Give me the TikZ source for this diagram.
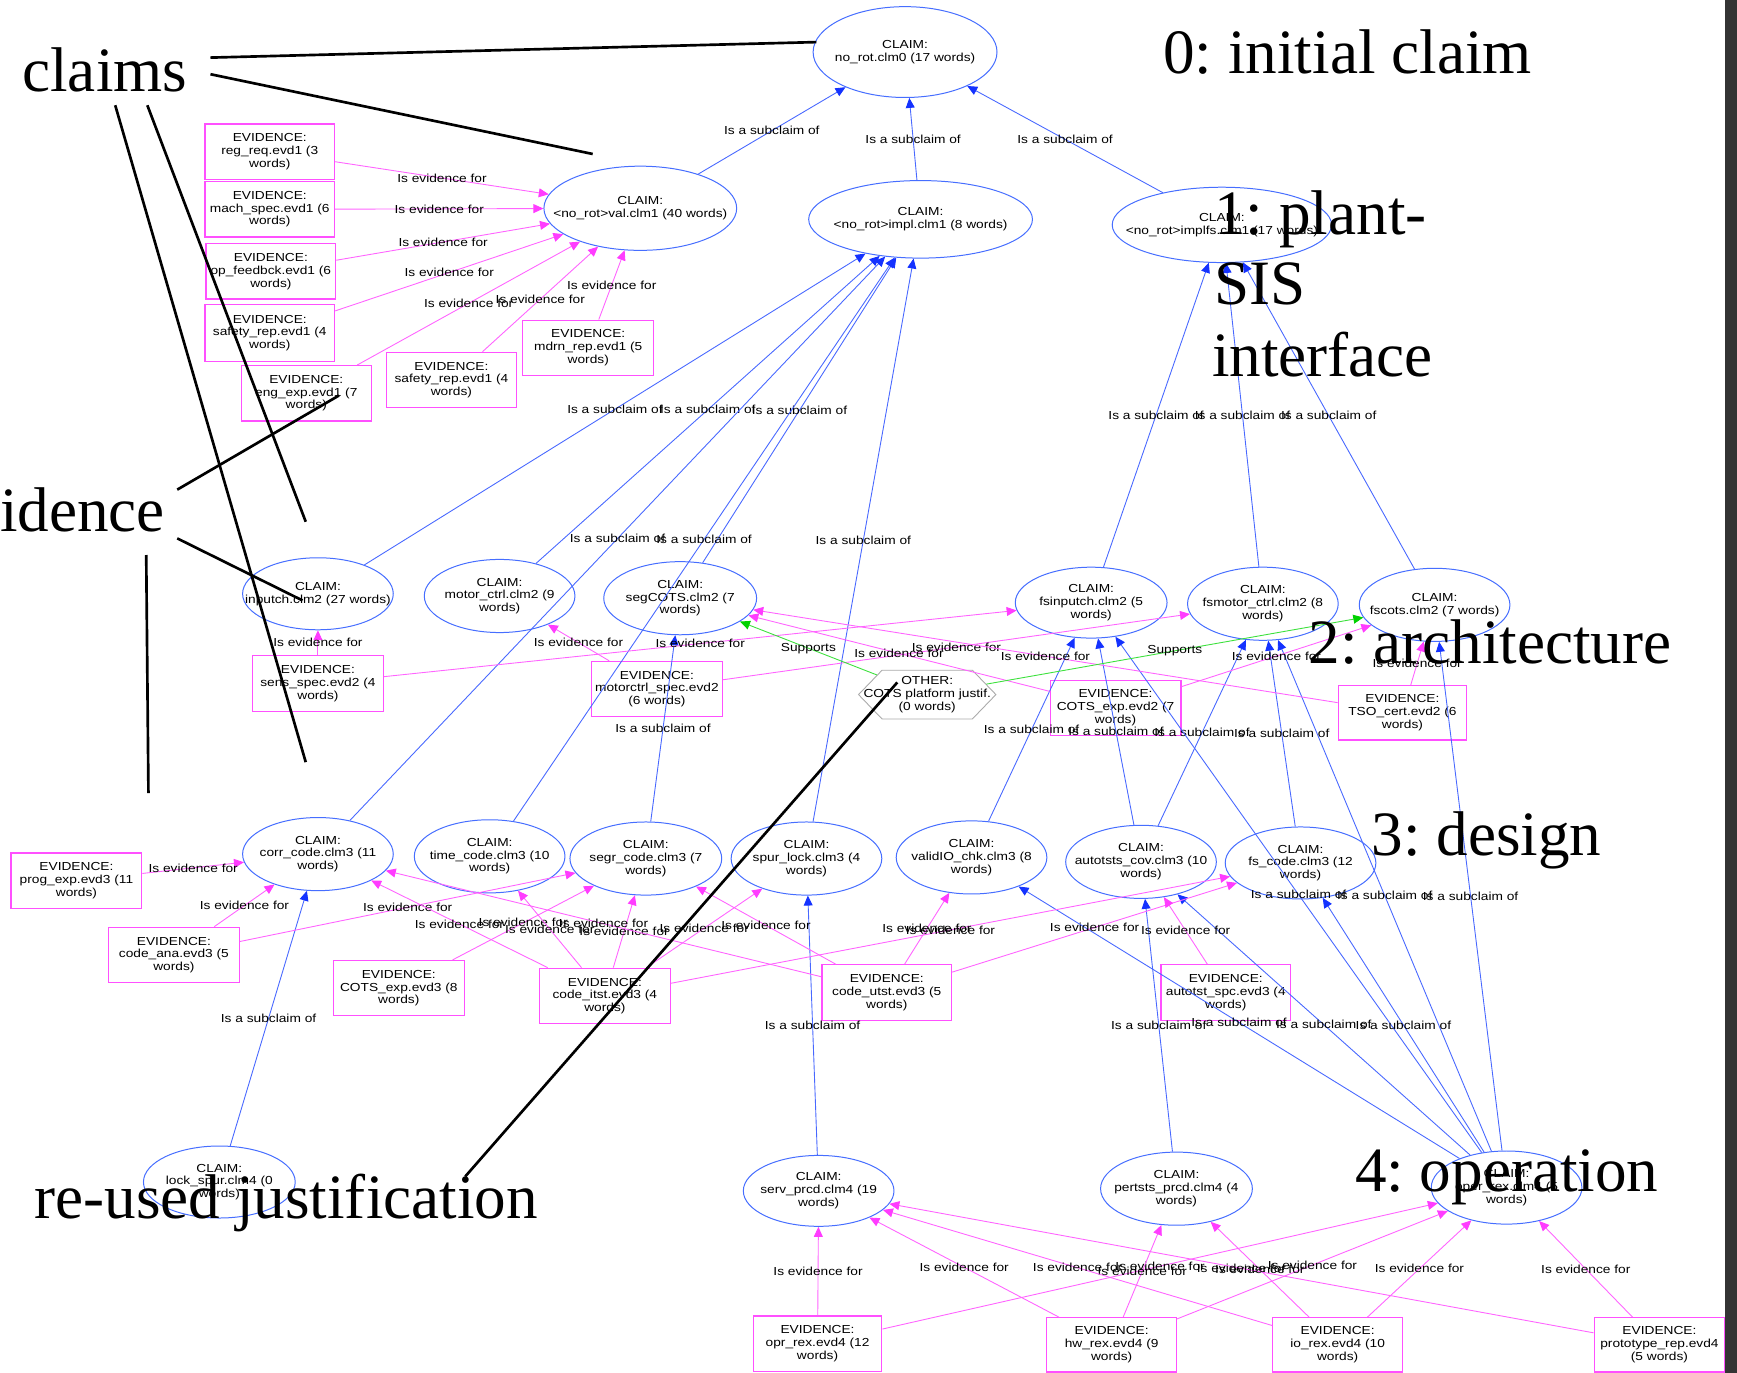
\documentclass[tikz,border=0pt]{standalone}
\usepackage{fontspec}
\newfontfamily\graphfont[FakeStretch=1.18]{Liberation Sans}
\newfontfamily\notefont{Liberation Serif}
\usetikzlibrary{arrows.meta,shapes.geometric,shapes.symbols}
\frenchspacing

\definecolor{subline}{RGB}{72,104,255}
\definecolor{subtip}{RGB}{20,50,255}
\definecolor{evline}{RGB}{255,100,255}
\definecolor{evtip}{RGB}{255,60,255}
\definecolor{evbox}{RGB}{255,80,255}
\definecolor{claimline}{RGB}{70,110,255}
\definecolor{supline}{RGB}{60,225,60}
\definecolor{suptip}{RGB}{0,210,0}
\definecolor{hexline}{RGB}{170,170,170}
\definecolor{edgestrip}{RGB}{52,52,52}

\tikzset{
  ntext/.style={font=\graphfont\fontsize{10.5}{11.5}\selectfont, align=center, inner sep=0pt, text=black},
  claim/.style={ellipse, draw=claimline, line width=0.9pt, inner sep=0pt},
  evid/.style={rectangle, draw=evbox, line width=1.1pt, inner sep=0pt},
  otherhex/.style={signal, signal to=west and east, signal pointer angle=92, draw=hexline, line width=0.8pt, inner sep=0pt},
  elabel/.style={font=\graphfont\fontsize{10.5}{11.5}\selectfont, text=black, inner sep=0pt},
  subedge/.style={draw=subline, line width=0.8pt, -{Triangle[length=9pt,width=8pt,color=subtip]}},
  evedge/.style={draw=evline, line width=0.8pt, -{Triangle[length=9pt,width=8pt,color=evtip]}},
  supedge/.style={draw=supline, line width=0.8pt, -{Triangle[length=9pt,width=8pt,color=suptip]}},
  notetext/.style={font=\notefont\fontsize{57}{64.5}\selectfont, text=black, inner sep=0pt, anchor=base west},
  notewire/.style={draw=black, line width=2.4pt},
}

% claim ellipse: name, x, y, width, height, text
\newcommand\claimnode[6]{\node[claim, minimum width=#4, minimum height=#5, label={[ntext]center:{#6}}] (#1) at (#2,#3) {};}
% evidence box: name, x, y, width, height, text
\newcommand\evidnode[6]{\node[evid, minimum width=#4, minimum height=#5, label={[ntext]center:{#6}}] (#1) at (#2,#3) {};}
% relations
\newcommand\subarc[2]{\draw[subedge] (#1) -- (#2) node[elabel, midway] (sl-#1-#2) {Is a subclaim of};}
\newcommand\evarc[2]{\draw[evedge] (#1) -- (#2) node[elabel, midway] (el-#1-#2) {Is evidence for};}
\newcommand\suparc[2]{\draw[supedge] (#1) -- (#2) node[elabel, midway] (pl-#1-#2) {Supports};}

\begin{document}
\begin{tikzpicture}[x=1pt,y=-1pt]
\useasboundingbox (0,0) rectangle (1568,1239);
\fill[white] (0,0) rectangle (1568,1239);
\fill[edgestrip] (1557,0) rectangle (1568,1239);

% ---- level 0 and 1 claims
\claimnode{c0}{817}{47}{166}{82}{CLAIM:\\no\_rot.clm0 (17 words)}
\claimnode{c1val}{578}{188}{174}{76}{CLAIM:\\<no\_rot>val.clm1 (40 words)}
\claimnode{c1impl}{831}{198}{202}{70}{CLAIM:\\<no\_rot>impl.clm1 (8 words)}
\claimnode{c1fs}{1103}{203}{198}{68}{CLAIM:\\<no\_rot>implfs.clm1 (17 words)}

% ---- level 1 evidence
\evidnode{regreq}{243.5}{137}{117}{50}{EVIDENCE:\\reg\_req.evd1 (3\\words)}
\evidnode{machspec}{243.5}{189}{117}{50}{EVIDENCE:\\mach\_spec.evd1 (6\\words)}
\evidnode{opfeed}{244.5}{245}{117}{50}{EVIDENCE:\\op\_feedbck.evd1 (6\\words)}
\evidnode{safetya}{243.5}{300.5}{117}{51}{EVIDENCE:\\safety\_rep.evd1 (4\\words)}
\evidnode{engexp}{276.5}{355}{117}{50}{EVIDENCE:\\eng\_exp.evd1 (7\\words)}
\evidnode{safetyb}{407.5}{343}{117}{50}{EVIDENCE:\\safety\_rep.evd1 (4\\words)}
\evidnode{mdrnrep}{531}{314}{118}{50}{EVIDENCE:\\mdrn\_rep.evd1 (5\\words)}

% ---- level 2 claims
\claimnode{inputch}{287}{536}{136}{65}{CLAIM:\\inputch.clm2 (27 words)}
\claimnode{motorctrl}{451}{538}{136}{66}{CLAIM:\\motor\_ctrl.clm2 (9\\words)}
\claimnode{segcots}{614}{540}{138}{66}{CLAIM:\\segCOTS.clm2 (7\\words)}
\claimnode{fsinputch}{985}{544}{137}{64}{CLAIM:\\fsinputch.clm2 (5\\words)}
\claimnode{fsmotor}{1140}{545}{136}{66}{CLAIM:\\fsmotor\_ctrl.clm2 (8\\words)}
\claimnode{fscots}{1295}{546}{136}{66}{CLAIM:\\fscots.clm2 (7 words)}

% ---- level 2 evidence and justification
\evidnode{sensspec}{287}{617}{118}{50}{EVIDENCE:\\sens\_spec.evd2 (4\\words)}
\evidnode{motorspec}{593}{622}{118}{50}{EVIDENCE:\\motorctrl\_spec.evd2\\(6 words)}
\evidnode{cotsexptwo}{1007}{639}{118}{50}{EVIDENCE:\\COTS\_exp.evd2 (7\\words)}
\evidnode{tsocert}{1266}{643.5}{116}{49}{EVIDENCE:\\TSO\_cert.evd2 (6\\words)}
\node[otherhex, minimum width=124, minimum height=44,
      label={[ntext]center:{OTHER:\\COTS platform justif.\\(0 words)}}] (cotsjust) at (837,627) {};

% ---- level 3 claims
\claimnode{corrcode}{287}{771}{136}{66}{CLAIM:\\corr\_code.clm3 (11\\words)}
\claimnode{timecode}{442}{773}{136}{66}{CLAIM:\\time\_code.clm3 (10\\words)}
\claimnode{segrcode}{583}{775}{137}{66}{CLAIM:\\segr\_code.clm3 (7\\words)}
\claimnode{spurlock}{728}{775}{136}{66}{CLAIM:\\spur\_lock.clm3 (4\\words)}
\claimnode{validio}{877}{774}{136}{66}{CLAIM:\\validIO\_chk.clm3 (8\\words)}
\claimnode{autotsts}{1030}{778}{136}{66}{CLAIM:\\autotsts\_cov.clm3 (10\\words)}
\claimnode{fscode}{1174}{779}{136}{65}{CLAIM:\\fs\_code.clm3 (12\\words)}

% ---- level 3 evidence
\evidnode{progexp}{69}{795}{118}{50}{EVIDENCE:\\prog\_exp.evd3 (11\\words)}
\evidnode{codeana}{157}{862}{118}{50}{EVIDENCE:\\code\_ana.evd3 (5\\words)}
\evidnode{cotsexpthree}{360}{892}{118}{50}{EVIDENCE:\\COTS\_exp.evd3 (8\\words)}
\evidnode{codeitst}{546}{899}{118}{50}{EVIDENCE:\\code\_itst.evd3 (4\\words)}
\evidnode{codeutst}{800.5}{896}{117}{50}{EVIDENCE:\\code\_utst.evd3 (5\\words)}
\evidnode{autotstspc}{1106.5}{896}{117}{50}{EVIDENCE:\\autotst\_spc.evd3 (4\\words)}

% ---- level 4 claims
\claimnode{lockspur}{198}{1067}{137}{65}{CLAIM:\\lock\_spur.clm4 (0\\words)}
\claimnode{servprcd}{739}{1075}{136}{64}{CLAIM:\\serv\_prcd.clm4 (19\\words)}
\claimnode{pertsts}{1062}{1073}{137}{66}{CLAIM:\\pertsts\_prcd.clm4 (4\\words)}
\claimnode{operrex}{1360}{1072}{136}{66}{CLAIM:\\oper\_rex.clm4 (5\\words)}

% ---- level 4 evidence
\evidnode{oprrex}{738}{1213}{116}{50}{EVIDENCE:\\opr\_rex.evd4 (12\\words)}
\evidnode{hwrex}{1003.5}{1214}{117}{49}{EVIDENCE:\\hw\_rex.evd4 (9\\words)}
\evidnode{iorex}{1207.5}{1214}{117}{49}{EVIDENCE:\\io\_rex.evd4 (10\\words)}
\evidnode{protorep}{1498}{1214}{118}{49}{EVIDENCE:\\prototype\_rep.evd4\\(5 words)}

% ---- subclaim relations
\subarc{c1val}{c0}
\subarc{c1impl}{c0}
\subarc{c1fs}{c0}
\subarc{inputch}{c1impl}
\subarc{motorctrl}{c1impl}
\subarc{segcots}{c1impl}
\subarc{corrcode}{c1impl}
\subarc{timecode}{c1impl}
\subarc{spurlock}{c1impl}
\subarc{fsinputch}{c1fs}
\subarc{fsmotor}{c1fs}
\subarc{fscots}{c1fs}
\subarc{segrcode}{segcots}
\subarc{validio}{fsinputch}
\subarc{autotsts}{fsinputch}
\subarc{autotsts}{fsmotor}
\subarc{fscode}{fsmotor}
\subarc{operrex}{fsinputch}
\subarc{operrex}{fsmotor}
\subarc{operrex}{fscots}
\subarc{operrex}{validio}
\subarc{operrex}{autotsts}
\subarc{operrex}{fscode}
\subarc{lockspur}{corrcode}
\subarc{servprcd}{spurlock}
\subarc{pertsts}{autotsts}

% ---- evidence relations
\evarc{regreq}{c1val}
\evarc{machspec}{c1val}
\evarc{opfeed}{c1val}
\evarc{safetya}{c1val}
\evarc{engexp}{c1val}
\evarc{safetyb}{c1val}
\evarc{mdrnrep}{c1val}
\evarc{sensspec}{inputch}
\evarc{sensspec}{fsinputch}
\evarc{motorspec}{motorctrl}
\evarc{motorspec}{fsmotor}
\evarc{cotsexptwo}{segcots}
\evarc{cotsexptwo}{fscots}
\evarc{tsocert}{segcots}
\evarc{tsocert}{fscots}
\evarc{progexp}{corrcode}
\evarc{codeana}{corrcode}
\evarc{codeana}{segrcode}
\evarc{cotsexpthree}{segrcode}
\evarc{codeitst}{corrcode}
\evarc{codeitst}{timecode}
\evarc{codeitst}{segrcode}
\evarc{codeitst}{spurlock}
\evarc{codeitst}{fscode}
\evarc{codeutst}{corrcode}
\evarc{codeutst}{segrcode}
\evarc{codeutst}{validio}
\evarc{codeutst}{fscode}
\evarc{autotstspc}{autotsts}
\evarc{oprrex}{servprcd}
\evarc{oprrex}{operrex}
\evarc{hwrex}{servprcd}
\evarc{hwrex}{pertsts}
\evarc{hwrex}{operrex}
\evarc{iorex}{servprcd}
\evarc{iorex}{pertsts}
\evarc{iorex}{operrex}
\evarc{protorep}{servprcd}
\evarc{protorep}{operrex}

% ---- support relations
\suparc{cotsjust}{segcots}
\suparc{cotsjust}{fscots}

% ---- annotations
\node[notetext] (nclaims) at (20,83) {claims};
\node[notetext] (nlevel0) at (1050,66.5) {0: initial claim};
\node[notetext] (nlevel1a) at (1096,212) {1: plant-};
\node[notetext] (nlevel1b) at (1096,275) {SIS};
\node[notetext] (nlevel1c) at (1094,340) {interface};
\node[notetext] (nevidence) at (0,480) {idence};
\node[notetext] (nlevel2) at (1181,599) {2: architecture};
\node[notetext] (nlevel3) at (1238,772.5) {3: design};
\node[notetext] (nlevel4) at (1223,1076) {4: operation};
\node[notetext] (nreused) at (31,1100) {re-used justification};

\coordinate (wa1) at (190,52);   \coordinate (wb1) at (737,38);
\coordinate (wa2) at (190,67);   \coordinate (wb2) at (535,139);
\coordinate (wa3) at (104,95);   \coordinate (wb3) at (276,688);
\coordinate (wa4) at (133,95);   \coordinate (wb4) at (276,471);
\coordinate (wa5) at (160,442);  \coordinate (wb5) at (306,357);
\coordinate (wa6) at (160,486);  \coordinate (wb6) at (273,542);
\coordinate (wa7) at (132,501);  \coordinate (wb7) at (134,716);
\coordinate (wa8) at (420,1062); \coordinate (wb8) at (810,616);
\foreach \i in {1,...,8} {\draw[notewire] (wa\i) -- (wb\i);}
\end{tikzpicture}
\end{document}
